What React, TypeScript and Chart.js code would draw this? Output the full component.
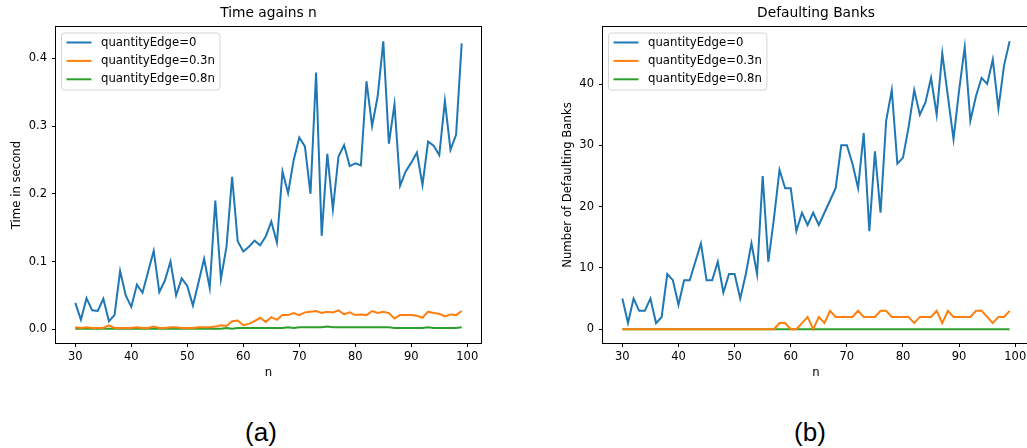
import React, { useEffect, useRef } from "react";
import { Chart, registerables } from "chart.js";

Chart.register(...registerables);

const FONT = "'DejaVu Sans', sans-serif";

// ---------- data ----------
const nValues = [
  30, 31, 32, 33, 34, 35, 36, 37, 38, 39,
  40, 41, 42, 43, 44, 45, 46, 47, 48, 49,
  50, 51, 52, 53, 54, 55, 56, 57, 58, 59,
  60, 61, 62, 63, 64, 65, 66, 67, 68, 69,
  70, 71, 72, 73, 74, 75, 76, 77, 78, 79,
  80, 81, 82, 83, 84, 85, 86, 87, 88, 89,
  90, 91, 92, 93, 94, 95, 96, 97, 98, 99,
];

const legendLabels = ["quantityEdge=0", "quantityEdge=0.3n", "quantityEdge=0.8n"];
const seriesColors = ["#1f77b4", "#ff7f0e", "#2ca02c"];

// (a) Time agains n
const timeEdge0 = [
  0.039, 0.014, 0.046, 0.028, 0.027, 0.045, 0.012, 0.021, 0.086, 0.050,
  0.033, 0.066, 0.054, 0.085, 0.116, 0.055, 0.072, 0.100, 0.050, 0.075,
  0.064, 0.035, 0.069, 0.104, 0.061, 0.190, 0.074, 0.122, 0.225, 0.130,
  0.115, 0.122, 0.131, 0.124, 0.137, 0.159, 0.128, 0.233, 0.201, 0.250,
  0.283, 0.270, 0.200, 0.379, 0.138, 0.259, 0.177, 0.255, 0.272, 0.241,
  0.245, 0.242, 0.366, 0.300, 0.344, 0.425, 0.274, 0.332, 0.212, 0.233,
  0.246, 0.261, 0.213, 0.277, 0.271, 0.257, 0.337, 0.265, 0.287, 0.422,
];
const timeEdge03 = [
  0.003, 0.002, 0.003, 0.002, 0.002, 0.002, 0.006, 0.002, 0.002, 0.002,
  0.002, 0.003, 0.002, 0.002, 0.004, 0.002, 0.002, 0.003, 0.003, 0.002,
  0.002, 0.002, 0.003, 0.003, 0.003, 0.004, 0.006, 0.005, 0.012, 0.013,
  0.006, 0.008, 0.012, 0.017, 0.011, 0.018, 0.014, 0.021, 0.021, 0.024,
  0.021, 0.025, 0.026, 0.027, 0.024, 0.026, 0.025, 0.028, 0.022, 0.025,
  0.021, 0.022, 0.021, 0.027, 0.024, 0.026, 0.024, 0.016, 0.021, 0.021,
  0.021, 0.020, 0.017, 0.026, 0.024, 0.023, 0.019, 0.022, 0.021, 0.027,
];
const timeEdge08 = [
  0.001, 0.001, 0.001, 0.001, 0.001, 0.001, 0.001, 0.001, 0.001, 0.001,
  0.001, 0.001, 0.001, 0.001, 0.001, 0.001, 0.001, 0.001, 0.001, 0.001,
  0.001, 0.001, 0.001, 0.001, 0.001, 0.001, 0.001, 0.002, 0.001, 0.002,
  0.002, 0.002, 0.002, 0.002, 0.002, 0.002, 0.002, 0.002, 0.003, 0.002,
  0.003, 0.003, 0.003, 0.003, 0.003, 0.004, 0.003, 0.003, 0.003, 0.003,
  0.003, 0.003, 0.003, 0.003, 0.003, 0.003, 0.003, 0.002, 0.002, 0.002,
  0.002, 0.002, 0.002, 0.003, 0.002, 0.002, 0.002, 0.002, 0.002, 0.003,
];

// (b) Defaulting Banks
const banksEdge0 = [
  5, 1, 5, 3, 3, 5, 1, 2, 9, 8,
  4, 8, 8, 11, 14, 8, 8, 11, 6, 9,
  9, 5, 9, 14, 9, 25, 11, 18, 26, 23,
  23, 16, 19, 17, 19, 17, 19, 21, 23, 30,
  30, 27, 23, 32, 16, 29, 19, 34, 39, 27,
  28, 33, 39, 35, 37, 41, 35, 45, 38, 31,
  39, 46, 34, 38, 41, 40, 44, 36, 43, 47,
];
const banksEdge03 = [
  0, 0, 0, 0, 0, 0, 0, 0, 0, 0,
  0, 0, 0, 0, 0, 0, 0, 0, 0, 0,
  0, 0, 0, 0, 0, 0, 0, 0, 1, 1,
  0, 0, 1, 2, 0, 2, 1, 3, 2, 2,
  2, 2, 3, 2, 2, 2, 3, 3, 2, 2,
  2, 2, 1, 2, 2, 2, 3, 1, 3, 2,
  2, 2, 2, 3, 3, 2, 1, 2, 2, 3,
];
const banksEdge08 = [
  0, 0, 0, 0, 0, 0, 0, 0, 0, 0,
  0, 0, 0, 0, 0, 0, 0, 0, 0, 0,
  0, 0, 0, 0, 0, 0, 0, 0, 0, 0,
  0, 0, 0, 0, 0, 0, 0, 0, 0, 0,
  0, 0, 0, 0, 0, 0, 0, 0, 0, 0,
  0, 0, 0, 0, 0, 0, 0, 0, 0, 0,
  0, 0, 0, 0, 0, 0, 0, 0, 0, 0,
];

const xTicks = [30, 40, 50, 60, 70, 80, 90, 100];
const yTicksTime = [0.0, 0.1, 0.2, 0.3, 0.4];
const yTicksBanks = [0, 10, 20, 30, 40];

// ---------- plugins ----------
const framePlugin = {
  id: "frame",
  afterDraw(chart: any) {
    const { ctx, chartArea: a } = chart;
    ctx.save();
    ctx.strokeStyle = "#000";
    ctx.lineWidth = 1;
    ctx.strokeRect(Math.round(a.left) - 0.5, Math.round(a.top) - 0.5, Math.round(a.right - a.left) + 1, Math.round(a.bottom - a.top) + 1);
    ctx.restore();
  },
};

const legendBoxPlugin = {
  id: "legendBox",
  afterDraw(chart: any) {
    const { ctx, chartArea: a } = chart;
    ctx.save();
    ctx.font = `11.7px ${FONT}`;
    const textX = a.left + 45;
    const maxW = Math.max(...legendLabels.map((l) => ctx.measureText(l).width));
    const bx = a.left + 5.5;
    const by = a.top + 6;
    const bw = textX + maxW + 5 - bx;
    const bh = 57;
    ctx.beginPath();
    if ((ctx as any).roundRect) (ctx as any).roundRect(bx, by, bw, bh, 3);
    else ctx.rect(bx, by, bw, bh);
    ctx.fillStyle = "rgba(255,255,255,0.8)";
    ctx.fill();
    ctx.strokeStyle = "#d5d5d5";
    ctx.lineWidth = 1;
    ctx.stroke();
    legendLabels.forEach((label, i) => {
      const y = a.top + 15.5 + i * 18.4;
      ctx.beginPath();
      ctx.moveTo(a.left + 10.5, y);
      ctx.lineTo(a.left + 35.5, y);
      ctx.strokeStyle = seriesColors[i];
      ctx.lineWidth = 2;
      ctx.stroke();
      ctx.fillStyle = "#000";
      ctx.textBaseline = "middle";
      ctx.textAlign = "left";
      ctx.fillText(label, textX, y);
    });
    ctx.restore();
  },
};

function buildConfig(p: {
  title: string;
  yLabel: string;
  series: number[][];
  yMin: number;
  yMax: number;
  yTicks: number[];
  yFmt: (v: number) => string;
  yAxisWidth: number;
  yTitlePad: number;
  padRight: number;
}) {
  const tickFont = { family: FONT, size: 11.5 };
  const labelFont = { family: FONT, size: 11.7 };
  return {
    type: "line" as const,
    data: {
      datasets: p.series.map((s, i) => ({
        label: legendLabels[i],
        data: nValues.map((n, j) => ({ x: n, y: s[j] })),
        borderColor: seriesColors[i],
        backgroundColor: seriesColors[i],
        borderWidth: 2,
        pointRadius: 0,
        tension: 0,
        fill: false,
      })),
    },
    options: {
      animation: false,
      responsive: false,
      maintainAspectRatio: false,
      layout: { padding: { left: 0, right: p.padRight, top: 0, bottom: 0 } },
      plugins: {
        legend: { display: false },
        tooltip: { enabled: false },
        title: {
          display: true,
          text: p.title,
          fullSize: false,
          color: "#000",
          font: { family: FONT, size: 13.8, weight: "normal" as const },
          padding: { top: 5, bottom: 5.44 },
        },
      },
      scales: {
        x: {
          type: "linear" as const,
          min: 26.55,
          max: 102.45,
          afterBuildTicks: (s: any) => {
            s.ticks = xTicks.map((v) => ({ value: v }));
          },
          afterFit: (s: any) => {
            s.height = 57;
          },
          ticks: {
            autoSkip: false,
            maxRotation: 0,
            color: "#000",
            font: tickFont,
            padding: 3,
            callback: (v: any) => String(v),
          },
          grid: { display: true, drawOnChartArea: false, drawTicks: true, tickLength: 4, color: "#000", lineWidth: 1 },
          border: { display: false },
          title: { display: true, text: "n", color: "#000", font: labelFont, padding: { top: 0, bottom: 20 } },
        },
        y: {
          type: "linear" as const,
          min: p.yMin,
          max: p.yMax,
          afterBuildTicks: (s: any) => {
            s.ticks = p.yTicks.map((v) => ({ value: v }));
          },
          afterFit: (s: any) => {
            s.width = p.yAxisWidth;
          },
          ticks: {
            autoSkip: false,
            color: "#000",
            font: tickFont,
            padding: 5,
            callback: (v: any) => p.yFmt(Number(v)),
          },
          grid: { display: true, drawOnChartArea: false, drawTicks: true, tickLength: 4, color: "#000", lineWidth: 1 },
          border: { display: false },
          title: { display: true, text: p.yLabel, color: "#000", font: labelFont, padding: { top: p.yTitlePad, bottom: 0 } },
        },
      },
    },
    plugins: [framePlugin, legendBoxPlugin],
  };
}

function LineChart(props: { config: any; left: number; width: number; height: number }) {
  const ref = useRef<HTMLCanvasElement | null>(null);
  useEffect(() => {
    if (!ref.current) return;
    const chart = new Chart(ref.current, props.config);
    return () => chart.destroy();
  }, []);
  return (
    <canvas
      ref={ref}
      width={props.width}
      height={props.height}
      style={{ position: "absolute", left: props.left, top: 0, width: props.width, height: props.height }}
    />
  );
}

const configA = buildConfig({
  title: "Time agains n",
  yLabel: "Time in second",
  series: [timeEdge0, timeEdge03, timeEdge08],
  yMin: -0.0202,
  yMax: 0.4462,
  yTicks: yTicksTime,
  yFmt: (v) => v.toFixed(1),
  yAxisWidth: 56,
  yTitlePad: 10,
  padRight: 32,
});

const configB = buildConfig({
  title: "Defaulting Banks",
  yLabel: "Number of Defaulting Banks",
  series: [banksEdge0, banksEdge03, banksEdge08],
  yMin: -2.25,
  yMax: 49.3,
  yTicks: yTicksBanks,
  yFmt: (v) => String(Math.round(v)),
  yAxisWidth: 90,
  yTitlePad: 48,
  padRight: 4,
});

const captionStyle: React.CSSProperties = {
  position: "absolute",
  top: 419,
  transform: "translateX(-50%)",
  fontFamily: "'Liberation Sans', Arial, sans-serif",
  fontSize: 26,
  lineHeight: 1,
  color: "#000",
  whiteSpace: "nowrap",
};

export default function App() {
  return (
    <div
      style={{
        position: "fixed",
        left: 0,
        top: 0,
        width: 1027,
        height: 448,
        overflow: "hidden",
        background: "#fff",
      }}
    >
      <LineChart config={configA} left={0} width={513} height={400} />
      <LineChart config={configB} left={513} width={520} height={400} />
      <div style={{ ...captionStyle, left: 261 }}>(a)</div>
      <div style={{ ...captionStyle, left: 810 }}>(b)</div>
    </div>
  );
}
